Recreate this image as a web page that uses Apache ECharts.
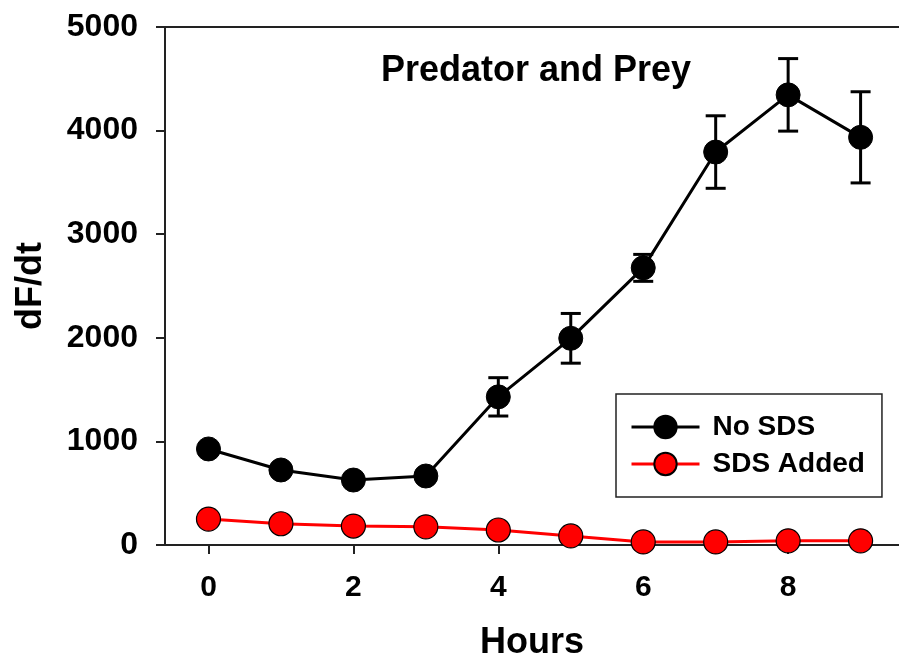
<!DOCTYPE html>
<html>
<head>
<meta charset="utf-8">
<script src="https://cdn.jsdelivr.net/npm/echarts@6/dist/echarts.min.js"></script>
<style>
  html, body { margin: 0; padding: 0; background: #fff; }
  #main { width: 899px; height: 666px; }
</style>
</head>
<body>
<div id="main"></div>
<script>
const hours = [0, 1, 2, 3, 4, 5, 6, 7, 8, 9];
const noSds = [927, 724, 627, 666, 1430, 1995, 2675, 3793, 4345, 3935];
const noSdsErr = [50, 40, 40, 50, 185, 240, 130, 350, 350, 440];
const sdsAdded = [250, 205, 183, 175, 145, 88, 30, 30, 40, 40];
const yTicks = [0, 1000, 2000, 3000, 4000, 5000];
const xTicks = [0, 2, 4, 6, 8];

const chartDom = document.getElementById("main");
const myChart = echarts.init(chartDom);
const font = "'Liberation Sans', Arial, sans-serif";
const axisColor = "#222";

// error bars for the black series
const errData = hours.map((h, i) => [h, noSds[i] - noSdsErr[i], noSds[i] + noSdsErr[i]]);

const option = {
    animation: false,
    title: {
        text: "Predator and Prey",
        left: 376,
        top: 48,
        textStyle: { fontFamily: font, fontSize: 36, fontWeight: "bold", color: "#000" },
    },
    legend: {
        orient: "vertical",
        left: 616,
        top: 394,
        padding: [19, 17, 19, 14],
        borderColor: axisColor,
        borderWidth: 1.5,
        itemWidth: 68,
        itemHeight: 28,
        itemGap: 9,
        selectedMode: false,
        lineStyle: { width: 3 },
        data: ["No SDS", "SDS Added"],
        textStyle: { fontFamily: font, fontSize: 28, fontWeight: "bold", color: "#000", padding: [0, 0, 0, 8] },
    },
    grid: { left: 165, top: 27, right: 0, bottom: 121 },
    xAxis: [
        {
            type: "value",
            min: -0.6,
            max: 9.53,
            interval: 2,
            name: "Hours",
            nameLocation: "middle",
            nameGap: 80,
            nameTextStyle: { fontFamily: font, fontSize: 36, fontWeight: "bold", color: "#000" },
            axisLine: { show: true, onZero: false, lineStyle: { color: axisColor, width: 2 } },
            axisTick: { show: true, length: 9, lineStyle: { color: axisColor, width: 2 }, customValues: xTicks },
            axisLabel: {
                fontFamily: font, fontSize: 30, fontWeight: "bold", color: "#000", margin: 28,
                customValues: xTicks,
            },
            splitLine: { show: false },
        },
        {
            type: "value",
            position: "top",
            min: -0.6,
            max: 9.53,
            axisLine: { show: true, onZero: false, lineStyle: { color: axisColor, width: 2 } },
            axisTick: { show: false },
            axisLabel: { show: false },
            splitLine: { show: false },
        },
    ],
    yAxis: {
        type: "value",
        min: yTicks[0],
        max: yTicks[yTicks.length - 1],
        interval: 1000,
        name: "dF/dt",
        nameLocation: "middle",
        nameRotate: 90,
        nameGap: 116,
        nameTextStyle: { fontFamily: font, fontSize: 36, fontWeight: "bold", color: "#000" },
        axisLine: { show: true, onZero: false, lineStyle: { color: axisColor, width: 2 } },
        axisTick: { show: true, length: 9, lineStyle: { color: axisColor, width: 2 } },
        axisLabel: {
            fontFamily: font, fontSize: 32, fontWeight: "bold", color: "#000", margin: 27,
            formatter: (v) => String(v),
        },
        splitLine: { show: false },
    },
    series: [
        {
            name: "errbars",
            type: "custom",
            data: errData,
            z: 1,
            renderItem: (params, api) => {
                const x = api.value(0);
                const lo = api.coord([x, api.value(1)]);
                const hi = api.coord([x, api.value(2)]);
                const w = 10;
                const style = { stroke: "#000", lineWidth: 3 };
                return {
                    type: "group",
                    children: [
                        { type: "line", shape: { x1: lo[0], y1: lo[1], x2: hi[0], y2: hi[1] }, style },
                        { type: "line", shape: { x1: lo[0] - w, y1: lo[1], x2: lo[0] + w, y2: lo[1] }, style },
                        { type: "line", shape: { x1: hi[0] - w, y1: hi[1], x2: hi[0] + w, y2: hi[1] }, style },
                    ],
                };
            },
        },
        {
            name: "No SDS",
            type: "line",
            data: hours.map((h, i) => [h, noSds[i]]),
            symbol: "circle",
            symbolSize: 24,
            z: 3,
            lineStyle: { color: "#000", width: 3 },
            itemStyle: { color: "#000", borderColor: "#000", borderWidth: 1 },
        },
        {
            name: "SDS Added",
            type: "line",
            data: hours.map((h, i) => [h, sdsAdded[i]]),
            symbol: "circle",
            symbolSize: 24,
            z: 3,
            lineStyle: { color: "#ff0000", width: 3 },
            itemStyle: { color: "#ff0000", borderColor: "#000", borderWidth: 1.2 },
        },
    ],
};

myChart.setOption(option);
</script>
</body>
</html>
